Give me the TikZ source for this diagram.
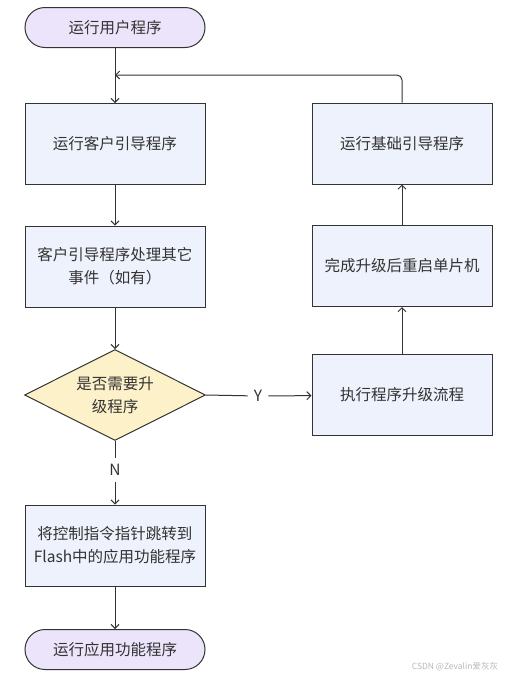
\documentclass[tikz,border=0pt]{standalone}
\usepackage{fontspec}
\setmainfont{Noto Sans CJK SC}
\usetikzlibrary{shapes.geometric,arrows.meta}
\definecolor{termfill}{HTML}{ECE4FB}
\definecolor{boxfill}{HTML}{EEF2FC}
\definecolor{askfill}{HTML}{FCF1C9}
\definecolor{edgecol}{HTML}{333333}

\begin{document}
\begin{tikzpicture}[x=1pt,y=-1pt,font=\fontsize{15.5}{23}\selectfont,text=edgecol]
    \tikzstyle{term}=[draw=edgecol,line width=1pt,fill=termfill,rounded corners=20pt,minimum width=180pt,minimum height=40pt,inner sep=0pt]
    \tikzstyle{proc}=[draw=edgecol,line width=1pt,fill=boxfill,minimum width=180pt,minimum height=81pt,text width=176pt,align=center,inner sep=0pt]
    \tikzstyle{ask}=[draw=edgecol,line width=1pt,fill=askfill,diamond,aspect=2,minimum width=181pt,minimum height=91pt,align=center,inner sep=0pt]
    \tikzstyle{flow}=[draw=edgecol,line width=1pt,-{Straight Barb[length=4pt,width=8pt]}]
    \tikzstyle{plain}=[draw=edgecol,line width=1pt]
    \useasboundingbox (0,0) rectangle (507,681);

    \node (start)[term] at (115,27.5) {运行用户程序};
    \node (boot)[proc] at (115,144) {运行客户引导程序};
    \node (evt)[proc] at (115,266.5) {客户引导程序处理其它\\事件（如有）};
    \node (chk)[ask] at (115,395) {是否需要升\\级程序};
    \node (jump)[proc] at (115,545.5) {将控制指令指针跳转到\\Flash中的应用功能程序};
    \node (app)[term] at (115,649.5) {运行应用功能程序};
    \node (upg)[proc] at (402,395) {执行程序升级流程};
    \node (rst)[proc] at (402,266) {完成升级后重启单片机};
    \node (base)[proc] at (402,143.5) {运行基础引导程序};
    \node (ylab)[inner sep=6pt] at (258,396) {Y};
    \node (nlab)[inner sep=6pt] at (115,470) {N};
    \coordinate (join) at (115,75);
    \node (mark)[text=gray!55,font=\fontsize{8.5}{9}\selectfont] at (455,667) {CSDN @Zevalin爱灰灰};

    \draw[flow] (start) -- (boot);
    \draw[flow] (boot) -- (evt);
    \draw[flow] (evt) -- (chk);
    \draw[plain] (chk.east) -- (ylab);
    \draw[flow] (ylab) -- (upg);
    \draw[plain] (chk.south) -- (nlab);
    \draw[flow] (nlab) -- (jump);
    \draw[flow] (jump) -- (app);
    \draw[flow] (upg) -- (rst);
    \draw[flow] (rst) -- (base);
    \draw[flow,rounded corners=5pt] (base.north) |- (join);
\end{tikzpicture}
\end{document}
